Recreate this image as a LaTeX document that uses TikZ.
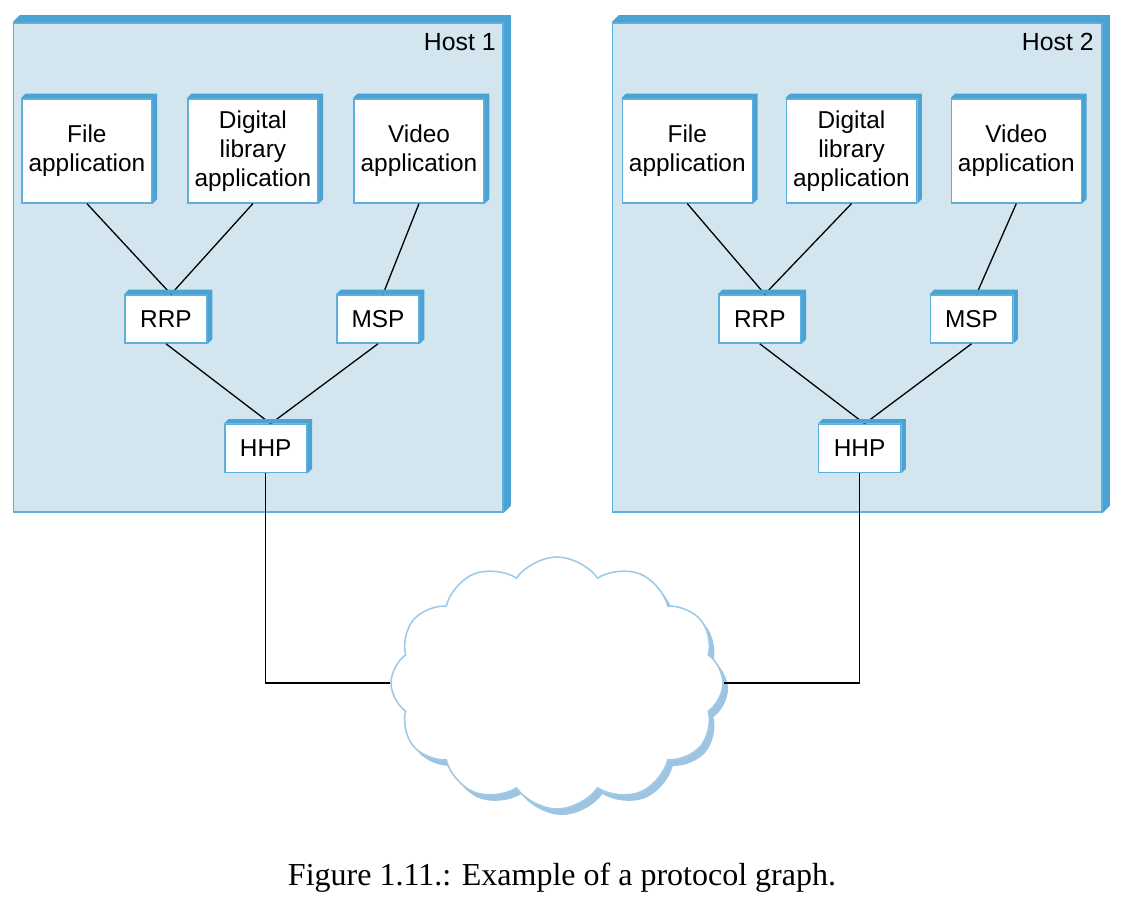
\documentclass[tikz,border=0pt]{standalone}
\usepackage{fontspec}
\setmainfont{Liberation Sans}
\newfontfamily\capfont{Liberation Serif}
\usetikzlibrary{shapes.symbols,shadows}

\definecolor{hostfill}{RGB}{211,229,239}
\definecolor{bandblue}{RGB}{75,163,211}
\definecolor{rimblue}{RGB}{95,175,222}
\definecolor{cloudline}{RGB}{160,202,230}
\definecolor{cloudshade}{RGB}{157,197,226}

\begin{document}
\begin{tikzpicture}[x=0.5pt,y=-0.5pt,
    box/.style={draw=rimblue,line width=0.8pt,fill=white,inner sep=0pt,align=center,
      font=\fontsize{12.2}{14.5}\selectfont},
    app/.style={box,minimum width=65pt,minimum height=52pt},
    proto/.style={box,minimum width=41pt,minimum height=24pt},
    host/.style={draw=rimblue,line width=0.8pt,fill=hostfill,minimum width=244.8pt,minimum height=244.5pt},
    hostlabel/.style={anchor=base east,inner sep=0pt,font=\fontsize{12.4}{14.5}\selectfont},
    wire/.style={draw=black,line width=0.65pt}]
    \useasboundingbox (0,0) rectangle (1130,900);

    % hosts
    \node[host] (host1) at (258.2,267.5) {};
    \node[host] (host2) at (857.2,267.5) {};
    \foreach \n in {host1,host2}
        \fill[bandblue] (\n.north west) -- ++(7,-7) -- ([shift={(7,-7)}]\n.north east)
            -- ([shift={(7,-7)}]\n.south east) -- (\n.south east) -- (\n.north east) -- cycle;
    \node[hostlabel] (lab1) at (496,50) {Host 1};
    \node[hostlabel] (lab2) at (1094,50) {Host 2};

    % host 1
    \node[app] (f1) at (86.9,150.8) {File\\application};
    \node[app] (d1) at (252.9,150.8) {Digital\\library\\application};
    \node[app] (v1) at (419,150.8) {Video\\application};
    \node[proto] (r1) at (166,319) {RRP};
    \node[proto] (m1) at (378,319) {MSP};
    \node[proto] (h1) at (265.7,448.5) {HHP};

    % host 2
    \node[app] (f2) at (687.3,150.8) {File\\application};
    \node[app] (d2) at (851.5,150.8) {Digital\\library\\application};
    \node[app] (v2) at (1016.3,150.8) {Video\\application};
    \node[proto] (r2) at (759.8,319) {RRP};
    \node[proto] (m2) at (971.5,319) {MSP};
    \node[proto] (h2) at (859.6,448.5) {HHP};

    % network
    \node[cloud,cloud puffs=12,cloud puff arc=110,cloud ignores aspect,
        minimum width=166pt,minimum height=126pt,draw=cloudline,line width=0.8pt,fill=white,
        drop shadow={shadow xshift=2.5pt,shadow yshift=-3pt,fill=cloudshade,opacity=1}]
        (net) at (557,683) {};

    \path[wire]
        (f1.south) edge ([xshift=2.5pt]r1.north)
        (d1.south) edge ([xshift=2.5pt]r1.north)
        (v1.south) edge ([xshift=2.5pt]m1.north)
        (r1.south) edge ([xshift=2.5pt]h1.north)
        (m1.south) edge ([xshift=2.5pt]h1.north)
        (f2.south) edge ([xshift=2.5pt]r2.north)
        (d2.south) edge ([xshift=2.5pt]r2.north)
        (v2.south) edge ([xshift=2.5pt]m2.north)
        (r2.south) edge ([xshift=2.5pt]h2.north)
        (m2.south) edge ([xshift=2.5pt]h2.north);
    \draw[wire] (h1.south) |- (net);
    \draw[wire] (h2.south) |- (net);

    \foreach \n in {f1,d1,v1,r1,m1,h1,f2,d2,v2,r2,m2,h2}
        \fill[bandblue] (\n.north west) -- ++(4.5,-4.5) -- ([shift={(4.5,-4.5)}]\n.north east)
            -- ([shift={(4.5,-4.5)}]\n.south east) -- (\n.south east) -- (\n.north east) -- cycle;

    \node[anchor=base,font=\capfont\fontsize{16}{19}\selectfont] (caption) at (562,885)
        {Figure 1.11.: Example of a protocol graph.};
\end{tikzpicture}
\end{document}
